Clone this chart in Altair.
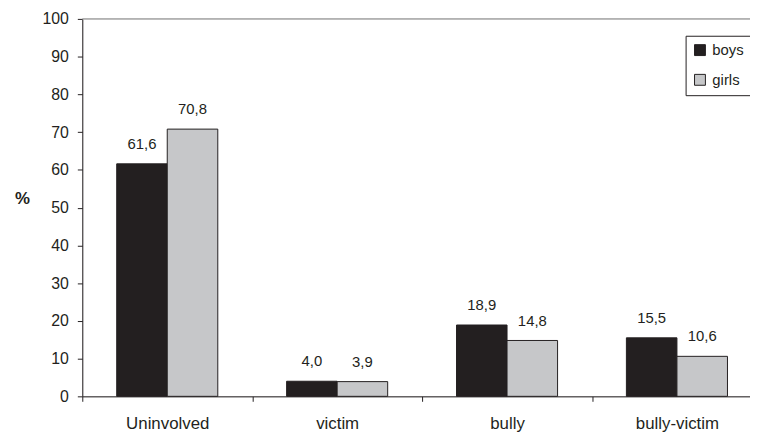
import altair as alt
import pandas as pd

categories = ["Uninvolved", "victim", "bully", "bully-victim"]
boys = [61.6, 4.0, 18.9, 15.5]
girls = [70.8, 3.9, 14.8, 10.6]
groups = ["boys", "girls"]
y_ticks = [0, 10, 20, 30, 40, 50, 60, 70, 80, 90, 100]

rows = []
for c, b, g in zip(categories, boys, girls):
    rows.append({"cat": c, "sex": "boys", "val": b, "lab": f"{b:.1f}".replace(".", ",")})
    rows.append({"cat": c, "sex": "girls", "val": g, "lab": f"{g:.1f}".replace(".", ",")})
df = pd.DataFrame(rows)

INK = "#231f20"
FONT = "Liberation Sans"

x_axis = alt.Axis(title=None, labelAngle=0, labelFontSize=17, labelColor=INK,
                  labelFont=FONT, labelPadding=27, labelBaseline="alphabetic",
                  tickBand="extent", labelOverlap=False,
                  tickSize=5, tickColor=INK, domainColor=INK, labelFlush=False)
y_axis = alt.Axis(values=y_ticks, grid=False, title="%", titleAngle=0,
                  titleFontWeight="bold", titleFontSize=17, titleColor=INK,
                  titleFont=FONT, titleX=-61, titleY=181, titleAlign="center",
                  titleBaseline="middle", labelOverlap=False,
                  labelFontSize=16, labelColor=INK, labelFont=FONT,
                  labelPadding=9, tickSize=5, tickColor=INK, domainColor=INK)
y_scale = alt.Scale(domain=[0, 100])

x_enc = alt.X("cat:N", sort=categories,
              scale=alt.Scale(range=[0, 686], paddingInner=0, paddingOuter=0),
              axis=x_axis)
xo_enc = alt.XOffset("sex:N", sort=groups,
                     scale=alt.Scale(paddingInner=0, paddingOuter=0.681))

base = alt.Chart(df)

bars = base.mark_bar(stroke=INK, strokeWidth=1).encode(
    x=x_enc,
    xOffset=xo_enc,
    y=alt.Y("val:Q", scale=y_scale, axis=y_axis),
    color=alt.Color("sex:N", sort=groups,
                    scale=alt.Scale(domain=groups, range=[INK, "#c6c7c9"]),
                    legend=alt.Legend(title=None, orient="none", legendX=609, legendY=17,
                                      symbolType="square", symbolSize=121,
                                      symbolStrokeColor=INK, symbolStrokeWidth=1,
                                      labelFontSize=15, labelFont=FONT, labelColor=INK,
                                      labelOffset=5, rowPadding=14, padding=7,
                                      strokeColor=INK, fillColor="white"))
)

top_rule = alt.Chart(pd.DataFrame({"val": [100]})).mark_rule(color="#9a9a9a", strokeWidth=1.2).encode(
    y=alt.Y("val:Q", scale=y_scale, axis=y_axis)
)

labels = base.mark_text(baseline="bottom", dy=-12, fontSize=15, font=FONT, color=INK).encode(
    x=x_enc,
    xOffset=xo_enc,
    y=alt.Y("val:Q", scale=y_scale, axis=y_axis),
    text="lab:N",
)

chart = alt.layer(bars, top_rule, labels).properties(
    width=674, height=381,
    autosize=alt.AutoSizeParams(type="none"),
    padding={"left": 75, "top": 9, "right": 0, "bottom": 35},
).configure_view(strokeWidth=0).configure(background="white")

chart.save("out.html", embed_options={"renderer": "svg", "actions": False})
